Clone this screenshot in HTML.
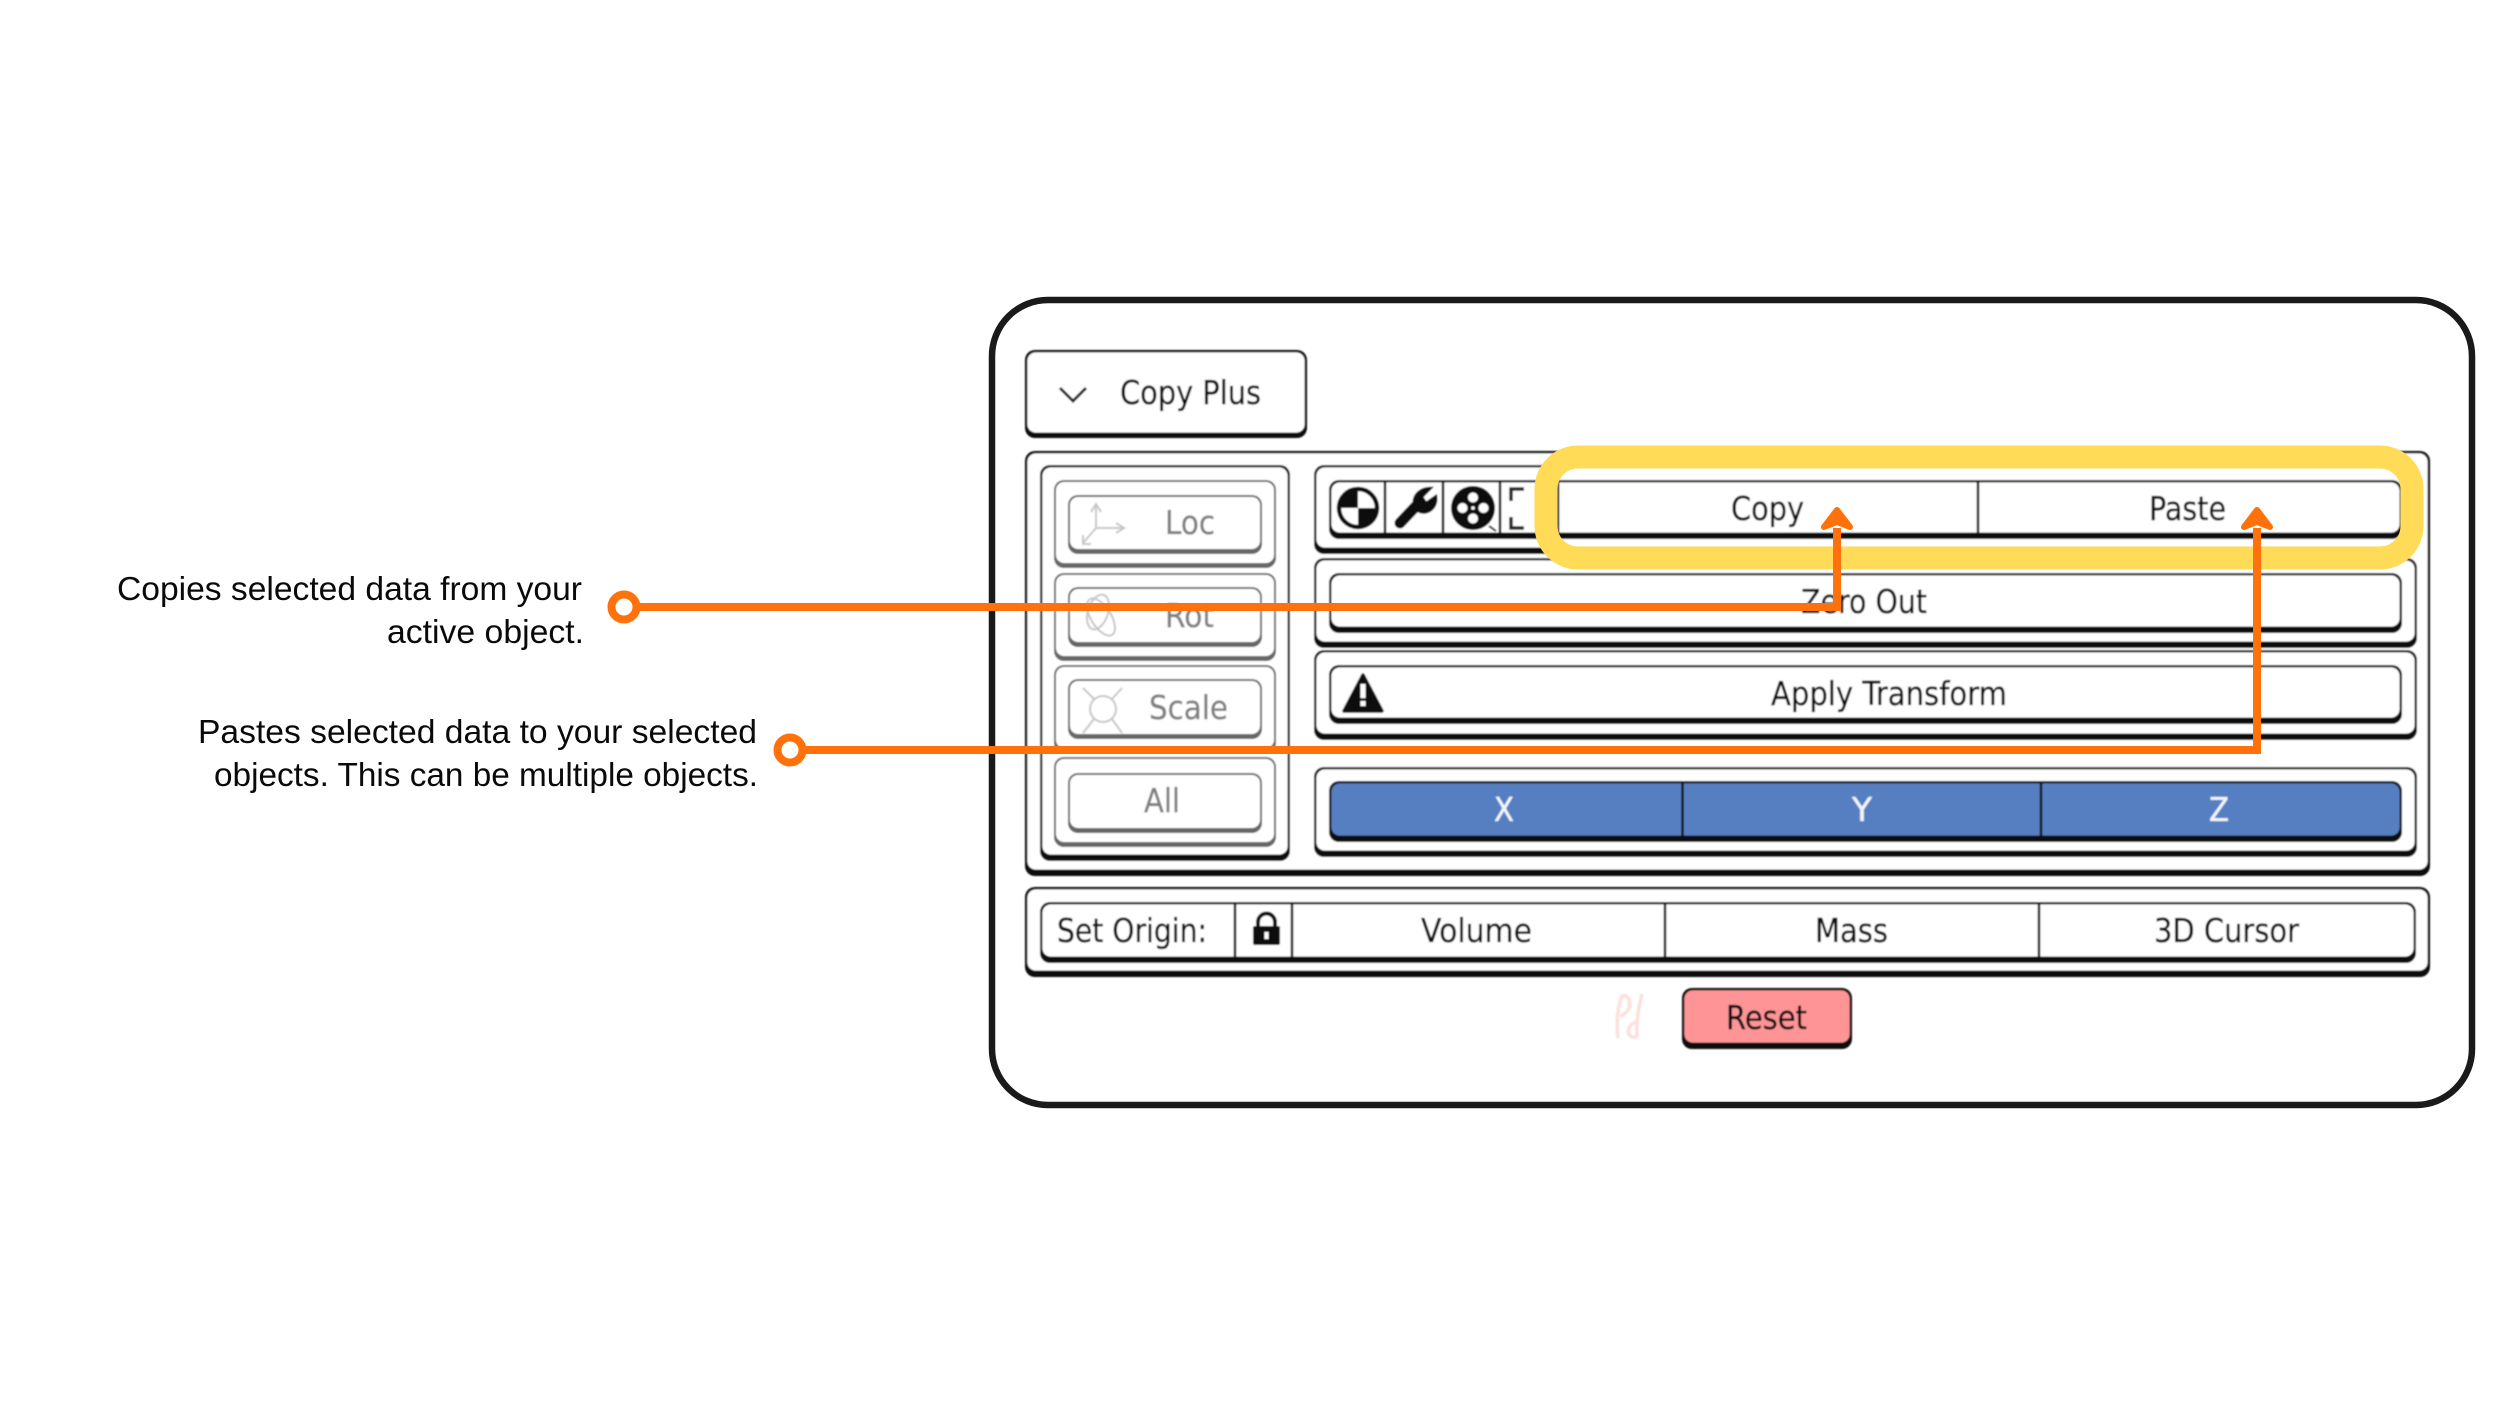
<!DOCTYPE html>
<html>
<head>
<meta charset="utf-8">
<style>
html,body{margin:0;padding:0;background:#fff;width:2500px;height:1406px;overflow:hidden}
svg{display:block}
.u{font-family:"DejaVu Sans","Liberation Sans",sans-serif;font-size:33px;fill:#0c0c0c;stroke:#0c0c0c;stroke-width:.35px}
.g{fill:#808080;stroke:#808080}
.w{fill:#f2f5fa;stroke:#f2f5fa}
.h{font-family:"Liberation Sans",sans-serif;font-size:33.5px;fill:#0a0a0a}
</style>
</head>
<body>
<svg width="2500" height="1406" viewBox="0 0 2500 1406" xmlns="http://www.w3.org/2000/svg">
<defs>
<filter id="b" x="-2%" y="-2%" width="104%" height="104%"><feGaussianBlur stdDeviation="0.7"/></filter>
</defs>
<rect width="2500" height="1406" fill="#fff"/>
<rect x="992" y="300" width="1480" height="805" rx="56" fill="#fff" stroke="#1a1a1a" stroke-width="6.5"/>

<g filter="url(#b)">
<!-- Copy Plus header -->
<rect x="1025" y="350" width="282" height="88" rx="10" fill="#111"/>
<rect x="1027.5" y="352.5" width="277" height="80" rx="8" fill="#fff"/>
<path d="M1060 388L1073 401L1086 388" fill="none" stroke="#222" stroke-width="3"/>
<text class="u" x="1120" y="404" textLength="141" lengthAdjust="spacingAndGlyphs">Copy Plus</text>

<!-- Main panel -->
<rect x="1025" y="451" width="1405" height="425" rx="10" fill="#111"/>
<rect x="1027.5" y="453.5" width="1400" height="416" rx="8" fill="#fff"/>

<!-- Left column -->
<rect x="1040" y="465" width="250" height="396" rx="10" fill="#111"/>
<rect x="1042.5" y="467.5" width="245" height="387" rx="8" fill="#fff"/>

<!-- grey groups -->
<rect x="1054" y="480" width="222" height="88" rx="10" fill="#666"/>
<rect x="1056" y="482" width="218" height="81" rx="8" fill="#fff"/>
<rect x="1068" y="495" width="194" height="59" rx="10" fill="#666"/>
<rect x="1070" y="497" width="190" height="52" rx="8" fill="#fff"/>

<rect x="1054" y="573" width="222" height="88" rx="10" fill="#666"/>
<rect x="1056" y="575" width="218" height="81" rx="8" fill="#fff"/>
<rect x="1068" y="587" width="194" height="60" rx="10" fill="#666"/>
<rect x="1070" y="589" width="190" height="53" rx="8" fill="#fff"/>

<rect x="1054" y="665" width="222" height="88" rx="10" fill="#666"/>
<rect x="1056" y="667" width="218" height="81" rx="8" fill="#fff"/>
<rect x="1068" y="679" width="194" height="60" rx="10" fill="#666"/>
<rect x="1070" y="681" width="190" height="53" rx="8" fill="#fff"/>

<rect x="1054" y="757" width="222" height="90" rx="10" fill="#666"/>
<rect x="1056" y="759" width="218" height="83" rx="8" fill="#fff"/>
<rect x="1068" y="773" width="194" height="60" rx="10" fill="#666"/>
<rect x="1070" y="775" width="190" height="53" rx="8" fill="#fff"/>

<!-- Grey icons -->
<g fill="none" stroke="#c6c6c6" stroke-width="2">
<path d="M1096 528V505M1091 512L1096 504L1101 512M1096 528H1122M1116 523L1124 528L1116 533M1096 528L1083 543M1083 535V544H1091"/>
<ellipse cx="1101" cy="617" rx="10" ry="21" transform="rotate(-32 1101 617)"/>
<ellipse cx="1098" cy="612" rx="10" ry="18" transform="rotate(18 1098 612)"/>
<circle cx="1103" cy="709" r="13"/>
<path d="M1083 688L1094 699M1122 688L1112 699M1083 733L1094 719M1122 733L1112 719"/>
</g>
<text class="u g" x="1165" y="534" textLength="50" lengthAdjust="spacingAndGlyphs">Loc</text>
<text class="u g" x="1165" y="627" textLength="49" lengthAdjust="spacingAndGlyphs">Rot</text>
<text class="u g" x="1149" y="719" textLength="79" lengthAdjust="spacingAndGlyphs">Scale</text>
<text class="u g" x="1144" y="812" textLength="36" lengthAdjust="spacingAndGlyphs">All</text>

<!-- Right column rows -->
<rect x="1314" y="465" width="1103" height="89" rx="10" fill="#111"/>
<rect x="1316.5" y="467.5" width="1098" height="80" rx="8" fill="#fff"/>
<rect x="1329" y="480" width="1073" height="59" rx="10" fill="#111"/>
<rect x="1331.5" y="482.5" width="1068" height="50" rx="8" fill="#fff"/>
<path d="M1385 482V534M1443 482V534M1500 482V534M1558 482V534M1978 482V534" stroke="#111" stroke-width="2.5"/>

<!-- icon: centre of mass -->
<circle cx="1358" cy="508" r="19" fill="#fff" stroke="#111" stroke-width="4.5"/>
<path d="M1358 508V489A19 19 0 0 0 1339 508Z" fill="#111"/>
<path d="M1358 508H1377A19 19 0 0 1 1358 527Z" fill="#111"/>
<!-- icon: wrench -->
<path d="M1400 523L1418 504" stroke="#111" stroke-width="11" stroke-linecap="round"/>
<path d="M1415 507C1411 497 1419 488 1431 488L1422 497L1426 503L1436 496C1438 508 1427 516 1418 511Z" fill="#111" stroke="#111" stroke-width="2.5"/>
<!-- icon: reel -->
<circle cx="1473" cy="508" r="22" fill="#111"/>
<g fill="#fff">
<circle cx="1473" cy="497.5" r="5"/><circle cx="1473" cy="518.5" r="5"/><circle cx="1462.5" cy="508" r="5"/><circle cx="1483.5" cy="508" r="5"/><circle cx="1473" cy="508" r="1.8"/>
</g>
<path d="M1489 526L1496 531" stroke="#333" stroke-width="2"/>
<path d="M1524 489H1511V501M1511 517V528H1524" fill="none" stroke="#222" stroke-width="3.5"/>

<text class="u" x="1731" y="520" textLength="73" lengthAdjust="spacingAndGlyphs">Copy</text>
<text class="u" x="2149" y="520" textLength="77" lengthAdjust="spacingAndGlyphs">Paste</text>

<rect x="1314" y="558" width="1103" height="90" rx="10" fill="#111"/>
<rect x="1316.5" y="560.5" width="1098" height="81" rx="8" fill="#fff"/>
<rect x="1329" y="573" width="1073" height="60" rx="10" fill="#111"/>
<rect x="1331.5" y="575.5" width="1068" height="51" rx="8" fill="#fff"/>
<text class="u" x="1801" y="613" textLength="126" lengthAdjust="spacingAndGlyphs">Zero Out</text>

<rect x="1314" y="650" width="1103" height="90" rx="10" fill="#111"/>
<rect x="1316.5" y="652.5" width="1098" height="81" rx="8" fill="#fff"/>
<rect x="1329" y="665" width="1073" height="59" rx="10" fill="#111"/>
<rect x="1331.5" y="667.5" width="1068" height="50" rx="8" fill="#fff"/>
<path d="M1363 675L1382 711H1344Z" fill="#111" stroke="#111" stroke-width="3.5" stroke-linejoin="round"/>
<rect x="1360.5" y="684" width="5" height="14" fill="#fff"/>
<rect x="1360.5" y="701" width="5" height="5" fill="#fff"/>
<text class="u" x="1771" y="705" textLength="236" lengthAdjust="spacingAndGlyphs">Apply Transform</text>

<rect x="1314" y="767" width="1103" height="90" rx="10" fill="#111"/>
<rect x="1316.5" y="769.5" width="1098" height="81" rx="8" fill="#fff"/>
<rect x="1329" y="781" width="1073" height="61" rx="10" fill="#111"/>
<rect x="1331.5" y="783.5" width="1068" height="52" rx="8" fill="#567fc2"/>
<path d="M1682.5 783V836M2041 783V836" stroke="#111" stroke-width="2.5"/>
<text class="u w" x="1494" y="821" textLength="20" lengthAdjust="spacingAndGlyphs">X</text>
<text class="u w" x="1852" y="821" textLength="20" lengthAdjust="spacingAndGlyphs">Y</text>
<text class="u w" x="2209" y="821" textLength="20" lengthAdjust="spacingAndGlyphs">Z</text>

<!-- Set Origin row -->
<rect x="1025" y="887" width="1405" height="90" rx="10" fill="#111"/>
<rect x="1027.5" y="889.5" width="1400" height="81" rx="8" fill="#fff"/>
<rect x="1040" y="902" width="1376" height="61" rx="10" fill="#111"/>
<rect x="1042.5" y="904.5" width="1371" height="52" rx="8" fill="#fff"/>
<path d="M1235 904V958M1292 904V958M1665 904V958M2039 904V958" stroke="#111" stroke-width="2.5"/>
<text class="u" x="1057" y="942" textLength="150" lengthAdjust="spacingAndGlyphs">Set Origin:</text>
<rect x="1253" y="926" width="27" height="19" rx="2" fill="#111"/>
<path d="M1258 926V922A8.5 8.5 0 0 1 1275 922V926" fill="none" stroke="#111" stroke-width="4"/>
<rect x="1264.5" y="932" width="4" height="7" fill="#fff"/>
<text class="u" x="1421" y="942" textLength="111" lengthAdjust="spacingAndGlyphs">Volume</text>
<text class="u" x="1815" y="942" textLength="73" lengthAdjust="spacingAndGlyphs">Mass</text>
<text class="u" x="2154" y="942" textLength="145" lengthAdjust="spacingAndGlyphs">3D Cursor</text>

<!-- Reset -->
<path d="M1618 1038C1616 1020 1618 1006 1622 996C1628 994 1632 1002 1628 1010C1625 1014 1622 1016 1620 1016M1642 994C1638 1010 1636 1024 1637 1036C1630 1040 1626 1032 1630 1026C1632 1023 1636 1022 1638 1022" fill="none" stroke="#fde0da" stroke-width="3.5"/>
<rect x="1682" y="988" width="170" height="61" rx="10" fill="#111"/>
<rect x="1684.5" y="990.5" width="165" height="52" rx="8" fill="#ff9496"/>
<text class="u" x="1726" y="1029" textLength="81" lengthAdjust="spacingAndGlyphs">Reset</text>
</g>

<!-- Yellow highlight -->
<rect x="1546" y="457" width="866" height="101" rx="32" fill="none" stroke="#ffdb58" stroke-width="23"/>

<!-- Orange connectors -->
<g fill="none" stroke="#ff720b" stroke-width="8">
<circle cx="624" cy="607" r="12.5"/>
<path d="M637 607H1837V528"/>
<circle cx="790" cy="750" r="12.5"/>
<path d="M803 750H2257V528"/>
</g>
<g fill="#ff720b" stroke="#ff720b" stroke-width="6" stroke-linejoin="round" stroke-linecap="round">
<path d="M1824 527L1837 510L1850 527L1837 522Z"/>
<path d="M2244 527L2257 510L2270 527L2257 522Z"/>
</g>

<!-- Callout text -->
<text class="h" x="117" y="600" textLength="465" lengthAdjust="spacingAndGlyphs">Copies selected data from your</text>
<text class="h" x="387" y="643" textLength="197" lengthAdjust="spacingAndGlyphs">active object.</text>
<text class="h" x="198" y="743" textLength="559" lengthAdjust="spacingAndGlyphs">Pastes selected data to your selected</text>
<text class="h" x="214" y="786" textLength="544" lengthAdjust="spacingAndGlyphs">objects. This can be multiple objects.</text>
</svg>
</body>
</html>
